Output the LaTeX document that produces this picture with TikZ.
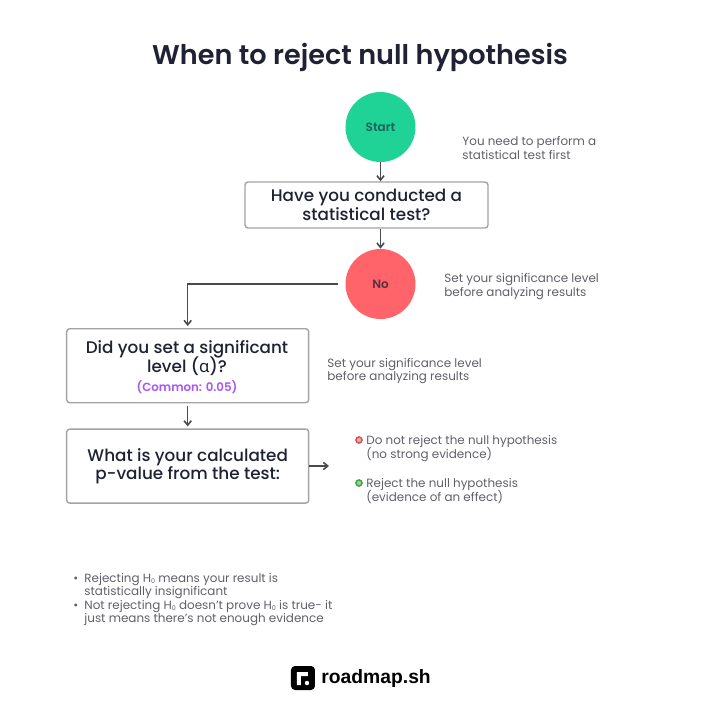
\documentclass[tikz,border=0pt]{standalone}
\usepackage{fontspec}
\setmainfont{Poppins}
\newfontfamily\medfont{Poppins Medium}
\newfontfamily\semifont{Poppins SemiBold}
\newfontfamily\greekfont{Noto Sans}
\newfontfamily\logofont{Liberation Sans}
\usetikzlibrary{arrows.meta,positioning}
\definecolor{RoadInk}{HTML}{1E2233}
\definecolor{RoadGrey}{HTML}{5F6068}
\definecolor{RoadEdge}{HTML}{A3A3A3}
\definecolor{RoadArrow}{HTML}{4A4A4A}
\definecolor{RoadGreen}{HTML}{1FD396}
\definecolor{RoadRed}{HTML}{FE6469}
\definecolor{RoadPurple}{HTML}{A855F7}
\newcommand{\nought}{\raisebox{-0.5pt}{\fontsize{3.2}{4}\selectfont 0}}

\begin{document}
\begin{tikzpicture}[x=0.5pt, y=-0.5pt, font=\medfont, node distance=10pt and 10pt,
  qbox/.style={draw=RoadEdge, line width=0.7pt, fill=white, rounded corners=1.5pt, align=center,
               text=RoadInk, font=\medfont\fontsize{8.4}{9.3}\selectfont, inner sep=0pt},
  blob/.style={circle, minimum size=35pt, inner sep=0pt, font=\semifont\fontsize{6}{7}\selectfont},
  note/.style={align=left, text=RoadGrey, inner sep=0pt, font=\fontsize{5.97}{6.75}\selectfont},
  dot/.style={circle, inner sep=0pt, minimum size=3pt, line width=0.8pt},
  ar/.style={-{Straight Barb[length=2.2pt,width=3.6pt]}, line width=0.8pt, RoadArrow}]
\useasboundingbox (0,0) rectangle (720,720);
\node[font=\semifont\fontsize{13.55}{16}\selectfont, text=RoadInk] (title) at (360,57) {When to reject null hypothesis};
\node[blob, fill=RoadGreen, text=RoadInk!65!RoadGreen] (start) at (380.5,127) {\raisebox{-0.4pt}{Start}};
\node[qbox, minimum width=121.5pt, minimum height=23pt] (conducted) at (366.5,205) {Have you conducted a\\statistical test?};
\node[blob, fill=RoadRed, text=RoadInk!75!RoadRed] (no) at (380.5,284) {No};
\node[qbox, minimum width=121pt, minimum height=37pt, anchor=north west] (level) at (66,328) {};
\node[text=RoadInk, align=center, inner sep=0pt, font=\medfont\fontsize{8.4}{9.3}\selectfont] (leveltext) at (187,356.5) {Did you set a significant\\\smash{level ({\greekfont α})?}};
\node[below=3.7pt of leveltext, text=RoadPurple, inner sep=0pt, font=\semifont\fontsize{5.9}{6.5}\selectfont] (common) {(Common: 0.05)};
\node[qbox, below=12.5pt of level, minimum width=121pt, minimum height=37pt] (pvalue) {What is your calculated\\p-value from the test:};
\coordinate (out) at (329,466);
\node[note, anchor=west] (needtest) at (462,148) {You need to perform a\\statistical test first};
\node[note, anchor=west] (setlevel) at (444,286.5) {Set your significance level\\before analyzing results};
\node[note, anchor=west] (setlevelb) at (327,371) {Set your significance level\\before analyzing results};
\node[note, anchor=west] (keep) at (366,447) {Do not reject the null hypothesis\\\smash{(no strong evidence)}};
\node[note, anchor=west] (reject) at (366,490) {Reject the null hypothesis\\\smash{(evidence of an effect)}};
\node[dot, fill=RoadRed!55, draw=RoadRed!85!black] (keepdot) at (359,440) {};
\node[dot, fill=green!45!black!35, draw=green!55!black!75] (rejectdot) at (359,483) {};
\node[note, anchor=north west] (remarks) at (84,573) {\llap{•\hspace{3pt}}Rejecting H\nought{} means your result is\\statistically insignificant\\\llap{•\hspace{3pt}}Not rejecting H\nought{} doesn’t prove H\nought{} is true- it\\just means there’s not enough evidence};
\node[fill=black, rounded corners=2pt, minimum size=12pt, inner sep=0pt] (logo) at (303,678) {};
\fill[white] (297,672) rectangle (308,676) (297,672) rectangle (301,685);
\node[circle, fill=white, inner sep=0pt, minimum size=2.2pt] (logodot) at (307,683) {};
\node[anchor=west, inner sep=0pt, text=black, font=\logofont\bfseries\fontsize{9.65}{12}\selectfont] (brand) at (321,678) {roadmap.sh};
\draw[ar] (start) -- (start |- conducted.north);
\draw[ar] (start |- conducted.south) -- (no);
\draw[ar, shorten <=3.5pt, shorten >=1pt] (no.west) -| (level.north);
\draw[ar, shorten <=1.5pt, shorten >=1pt] (level) -- (pvalue);
\draw[ar] (pvalue.east |- out) -- (out);
\end{tikzpicture}
\end{document}
